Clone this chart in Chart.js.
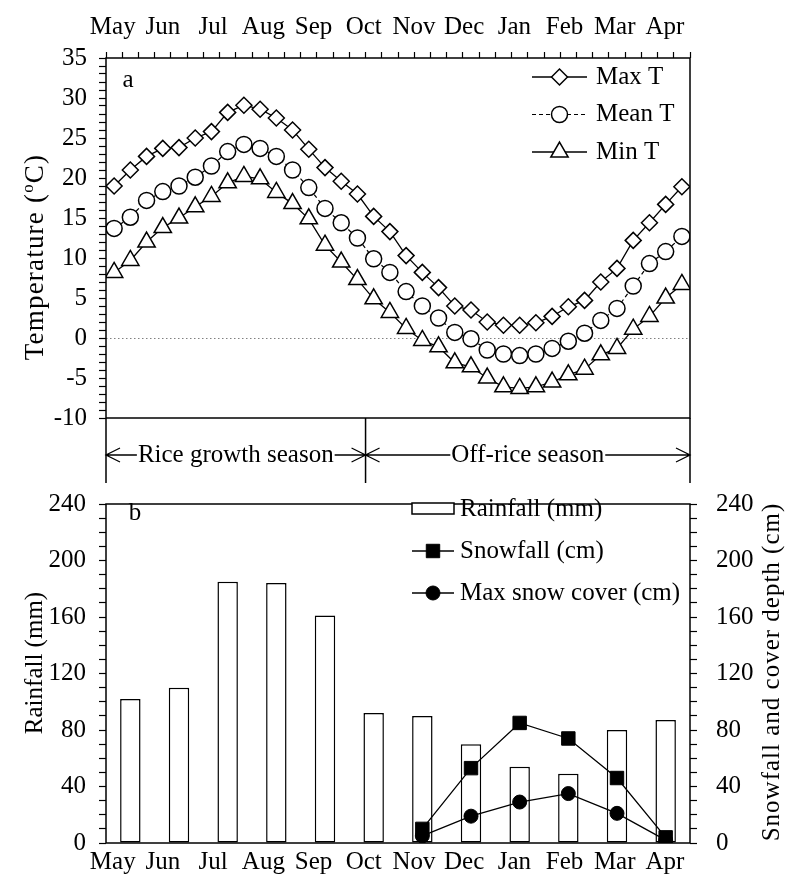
<!DOCTYPE html>
<html>
<head>
<meta charset="utf-8">
<script src="https://cdn.jsdelivr.net/npm/chart.js@4.4.1/dist/chart.umd.min.js"></script>
<style>
  html, body { margin: 0; padding: 0; background: #fff; }
  #wrap { position: relative; width: 789px; height: 886px; }
  #top { position: absolute; left: 0; top: 0; }
  #bottom { position: absolute; left: 0; top: 470px; }
</style>
</head>
<body>
<div id="wrap">
  <canvas id="top" width="789" height="483"></canvas>
  <canvas id="bottom" width="789" height="416"></canvas>
</div>
<script>
const months = ['May', 'Jun', 'Jul', 'Aug', 'Sep', 'Oct', 'Nov', 'Dec', 'Jan', 'Feb', 'Mar', 'Apr'];

// 10-day (dekad) air temperature, May 1-10 through Apr 21-30, deg C
const maxT = [19.0, 21.0, 22.7, 23.7, 23.8, 25.0, 25.8, 28.2, 29.1, 28.6, 27.5, 26.0,
  23.6, 21.3, 19.6, 18.0, 15.2, 13.3, 10.3, 8.2, 6.3, 4.0, 3.5, 2.0,
  1.6, 1.6, 1.9, 2.7, 3.9, 4.7, 7.0, 8.7, 12.2, 14.4, 16.7, 18.9];
const meanT = [13.7, 15.1, 17.2, 18.3, 19.0, 20.1, 21.5, 23.3, 24.2, 23.7, 22.7, 21.0,
  18.8, 16.2, 14.4, 12.5, 9.9, 8.2, 5.8, 4.0, 2.5, 0.7, -0.1, -1.5,
  -2.0, -2.2, -2.0, -1.3, -0.4, 0.6, 2.2, 3.7, 6.5, 9.3, 10.8, 12.7];
const minT = [8.2, 9.7, 12.0, 13.8, 15.0, 16.4, 17.7, 19.4, 20.2, 19.9, 18.2, 16.8,
  14.9, 11.6, 9.5, 7.3, 4.9, 3.2, 1.2, -0.3, -1.1, -3.1, -3.6, -5.0,
  -6.1, -6.3, -6.1, -5.5, -4.6, -3.9, -2.1, -1.3, 1.1, 2.7, 5.0, 6.7];

// monthly totals
const rainfall = [102, 110, 185, 184, 161, 92, 90, 70, 54, 49, 80, 87];
const snowfall = [null, null, null, null, null, null, 10, 53, 85, 74, 46, 4];
const snowCover = [null, null, null, null, null, null, 5, 19, 29, 35, 21, 2];

// rice season ends after the first dekad of October
const riceSeasonEnd = 16;

const serif = "'Liberation Serif', 'Times New Roman', serif";
Chart.defaults.font.family = serif;
Chart.defaults.font.size = 25;
Chart.defaults.color = '#000';

const dekadPoints = arr => arr.map((v, i) => ({x: i + 0.5, y: v}));

function drawFrame(chart) {
  const {ctx, chartArea: a} = chart;
  ctx.save();
  ctx.strokeStyle = '#000';
  ctx.lineWidth = 1.5;
  ctx.strokeRect(a.left, a.top, a.right - a.left, a.bottom - a.top);
  ctx.restore();
}

// rotated axis title; parts allow a raised small "o"
function vTitle(ctx, parts, cx, cy, spacing) {
  ctx.save();
  ctx.translate(cx, cy);
  ctx.rotate(-Math.PI / 2);
  ctx.letterSpacing = (spacing || 0) + 'px';
  let total = 0;
  parts.forEach(p => {
    ctx.font = p.size + 'px ' + serif;
    p.w = ctx.measureText(p.text).width;
    total += p.w;
  });
  let x = -total / 2;
  ctx.fillStyle = '#000';
  ctx.textAlign = 'left';
  ctx.textBaseline = 'alphabetic';
  parts.forEach(p => {
    ctx.font = p.size + 'px ' + serif;
    ctx.fillText(p.text, x, 9 - (p.rise || 0));
    x += p.w;
  });
  ctx.restore();
}

function legendSample(ctx, ds, x1, x2, y) {
  ctx.save();
  ctx.strokeStyle = '#000';
  ctx.lineWidth = ds.borderWidth;
  ctx.setLineDash(ds.borderDash || []);
  ctx.beginPath();
  ctx.moveTo(x1, y);
  ctx.lineTo(x2, y);
  ctx.stroke();
  ctx.setLineDash([]);
  ctx.fillStyle = ds.pointBackgroundColor;
  ctx.strokeStyle = ds.pointBorderColor;
  ctx.lineWidth = ds.pointBorderWidth;
  Chart.helpers.drawPoint(ctx, {
    pointStyle: ds.pointStyle, radius: ds.pointRadius, rotation: 0, borderWidth: ds.pointBorderWidth
  }, (x1 + x2) / 2, y);
  ctx.restore();
}

function seasonArrow(ctx, x1, x2, y, text) {
  ctx.save();
  ctx.strokeStyle = '#000';
  ctx.lineWidth = 1.3;
  ctx.beginPath();
  ctx.moveTo(x1, y); ctx.lineTo(x2, y);
  ctx.moveTo(x1 + 14, y - 7); ctx.lineTo(x1, y); ctx.lineTo(x1 + 14, y + 7);
  ctx.moveTo(x2 - 14, y - 7); ctx.lineTo(x2, y); ctx.lineTo(x2 - 14, y + 7);
  ctx.stroke();
  ctx.font = '25px ' + serif;
  const w = ctx.measureText(text).width;
  const cx = (x1 + x2) / 2;
  ctx.fillStyle = '#fff';
  ctx.fillRect(cx - w / 2 - 1, y - 12, w + 2, 24);
  ctx.fillStyle = '#000';
  ctx.textAlign = 'center';
  ctx.textBaseline = 'middle';
  ctx.fillText(text, cx, y);
  ctx.restore();
}

const topExtras = {
  id: 'topExtras',
  afterDraw(chart) {
    const {ctx, chartArea: a} = chart;
    drawFrame(chart);
    // season band between the two panels
    const split = chart.scales.x.getPixelForValue(riceSeasonEnd);
    ctx.save();
    ctx.strokeStyle = '#000';
    ctx.lineWidth = 1.5;
    ctx.beginPath();
    [a.left, split, a.right].forEach(x => { ctx.moveTo(x, a.bottom); ctx.lineTo(x, chart.height); });
    ctx.stroke();
    ctx.restore();
    seasonArrow(ctx, a.left, split, a.bottom + 37, 'Rice growth season');
    seasonArrow(ctx, split, a.right, a.bottom + 37, 'Off-rice season');

    // legend
    chart.data.datasets.forEach((ds, i) => {
      const y = 77 + i * 37.5;
      legendSample(ctx, ds, 532, 587, y);
      ctx.save();
      ctx.font = '25px ' + serif;
      ctx.fillStyle = '#000';
      ctx.textBaseline = 'middle';
      ctx.fillText(ds.label, 596, y);
      ctx.restore();
    });

    ctx.save();
    ctx.font = '25px ' + serif;
    ctx.fillStyle = '#000';
    ctx.textAlign = 'center';
    ctx.textBaseline = 'middle';
    ctx.fillText('a', 128, 80);
    ctx.restore();

    vTitle(ctx, [
      {text: 'Temperature (', size: 27},
      {text: 'o', size: 17, rise: 10},
      {text: 'C)', size: 27}
    ], 34, 257, 1.2);
  }
};

const bottomExtras = {
  id: 'bottomExtras',
  afterDraw(chart) {
    const {ctx} = chart;
    drawFrame(chart);
    const ds = chart.data.datasets;
    const ys = [39, 81, 123];

    ctx.save();
    // rainfall box sample
    ctx.fillStyle = '#fff';
    ctx.strokeStyle = '#000';
    ctx.lineWidth = 1.5;
    ctx.fillRect(412, ys[0] - 6, 42, 11);
    ctx.strokeRect(412, ys[0] - 6, 42, 11);
    ctx.restore();
    legendSample(ctx, ds[1], 412, 454, ys[1]);
    legendSample(ctx, ds[2], 412, 454, ys[2]);

    ctx.save();
    ctx.font = '25px ' + serif;
    ctx.fillStyle = '#000';
    ctx.textBaseline = 'middle';
    ds.forEach((d, i) => ctx.fillText(d.label, 460, ys[i]));
    ctx.textAlign = 'center';
    ctx.fillText('b', 135, 43);
    ctx.restore();

    vTitle(ctx, [{text: 'Rainfall (mm)', size: 25}], 33, 193);
    vTitle(ctx, [{text: 'Snowfall and cover depth (cm)', size: 25}], 770, 202, 1);
  }
};

// month names sit on their own axis so they can be spread slightly wider than the data slots
const monthAxis = (position, height, padding) => ({
  type: 'linear',
  position: position,
  min: -0.135,
  max: 11.5,
  weight: 1,
  grid: {display: false, drawTicks: false},
  border: {display: false},
  afterBuildTicks: s => { s.ticks = months.map((m, i) => ({value: i})); },
  ticks: {autoSkip: false, maxRotation: 0, padding: padding, callback: v => months[v]},
  afterFit: s => { s.height = height; }
});

const valueAxis = (position, min, max, step, major, width, padding) => ({
  position: position,
  min: min,
  max: max,
  ticks: {
    stepSize: step, autoSkip: false, padding: padding,
    callback: v => (v % major === 0 ? v : '')
  },
  grid: {
    color: c => (c.tick && c.tick.value === 0 && min < 0 ? '#808080' : 'rgba(0,0,0,0)'),
    lineWidth: 1, tickColor: '#000', tickLength: 7, tickWidth: 1.2
  },
  border: {display: false, dash: [1.5, 2.5]},
  afterFit: s => { s.width = width; }
});

new Chart(document.getElementById('top'), {
  type: 'line',
  data: {
    datasets: [
      {label: 'Max T', data: dekadPoints(maxT), xAxisID: 'x', borderColor: '#000', borderWidth: 1.3,
        pointStyle: 'rectRot', pointRadius: 8, pointBackgroundColor: '#fff', pointBorderColor: '#000', pointBorderWidth: 1.5},
      {label: 'Mean T', data: dekadPoints(meanT), xAxisID: 'x', borderColor: '#000', borderWidth: 1.2, borderDash: [4, 3],
        pointStyle: 'circle', pointRadius: 8, pointBackgroundColor: '#fff', pointBorderColor: '#000', pointBorderWidth: 1.5},
      {label: 'Min T', data: dekadPoints(minT), xAxisID: 'x', borderColor: '#000', borderWidth: 1.3,
        pointStyle: 'triangle', pointRadius: 10, pointBackgroundColor: '#fff', pointBorderColor: '#000', pointBorderWidth: 1.5}
    ]
  },
  options: {
    responsive: false,
    animation: false,
    layout: {padding: {left: 0, right: 99, top: 0, bottom: 65}},
    plugins: {legend: {display: false}, tooltip: {enabled: false}},
    scales: {
      x: {
        type: 'linear', position: 'top', min: 0, max: 36, weight: 0,
        ticks: {display: false, stepSize: 1, autoSkip: false},
        grid: {drawOnChartArea: false, drawTicks: true, tickLength: 6, tickColor: '#000', tickWidth: 1.2},
        border: {display: false},
        afterFit: s => { s.height = 6; }
      },
      xm: monthAxis('top', 52, 10),
      y: valueAxis('left', -10, 35, 1, 5, 106, 12)
    }
  },
  plugins: [topExtras]
});

new Chart(document.getElementById('bottom'), {
  data: {
    labels: months,
    datasets: [
      {type: 'bar', label: 'Rainfall (mm)', data: rainfall, xAxisID: 'x', yAxisID: 'y',
        backgroundColor: '#fff', borderColor: '#000', borderWidth: 1.5, borderSkipped: false,
        barPercentage: 0.42, categoryPercentage: 1, order: 2},
      {type: 'line', label: 'Snowfall (cm)', data: snowfall, xAxisID: 'x', yAxisID: 'y2',
        borderColor: '#000', borderWidth: 1.3, pointStyle: 'rect', pointRadius: 9.5,
        pointBackgroundColor: '#000', pointBorderColor: '#000', pointBorderWidth: 1, order: 1},
      {type: 'line', label: 'Max snow cover (cm)', data: snowCover, xAxisID: 'x', yAxisID: 'y2',
        borderColor: '#000', borderWidth: 1.3, pointStyle: 'circle', pointRadius: 7,
        pointBackgroundColor: '#000', pointBorderColor: '#000', pointBorderWidth: 1, order: 0}
    ]
  },
  options: {
    responsive: false,
    animation: false,
    layout: {padding: {left: 0, right: 0, top: 13, bottom: 0}},
    plugins: {legend: {display: false}, tooltip: {enabled: false}},
    scales: {
      x: {type: 'category', display: false, offset: true},
      xm: monthAxis('bottom', 43, 4),
      y: valueAxis('left', 0, 240, 10, 40, 106, 13),
      y2: valueAxis('right', 0, 240, 10, 40, 99, 19)
    }
  },
  plugins: [bottomExtras]
});
</script>
</body>
</html>
